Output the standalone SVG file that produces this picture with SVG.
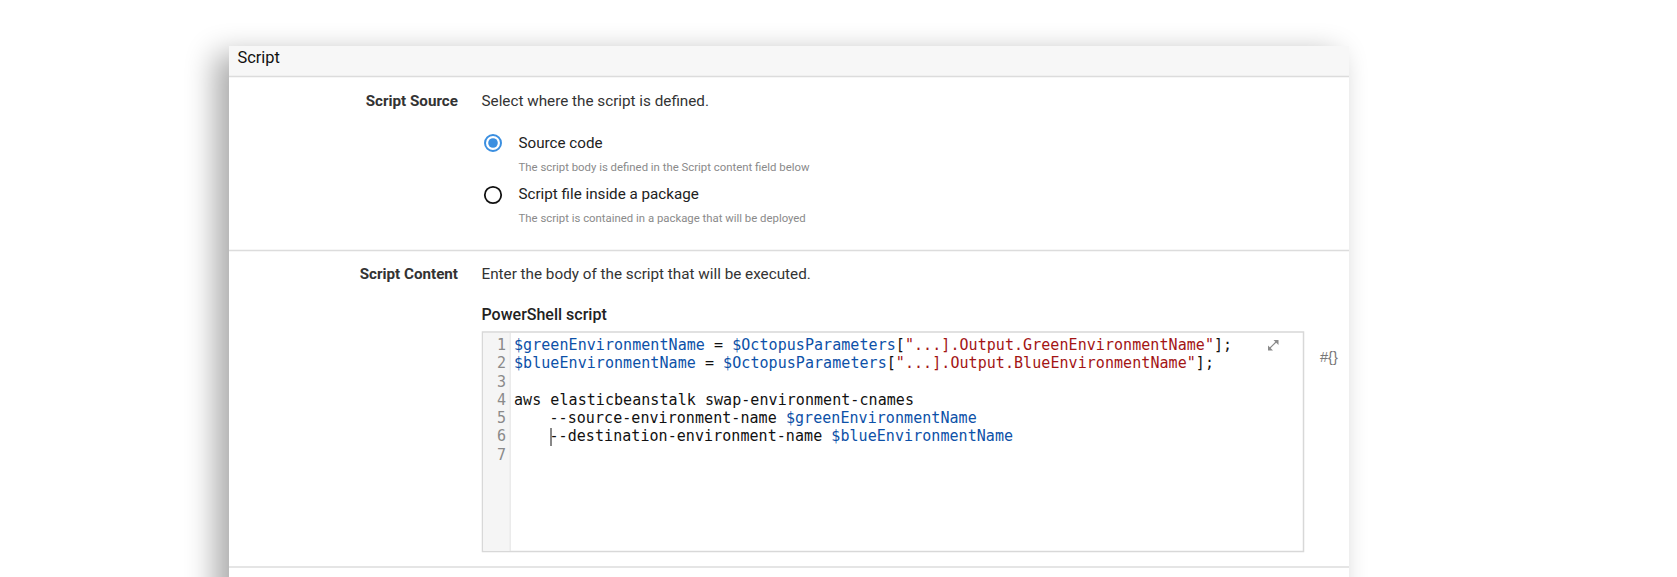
<svg xmlns="http://www.w3.org/2000/svg" width="1677" height="577" viewBox="0 0 1677 577">
<defs>
<filter id="sh" x="-10%" y="-20%" width="120%" height="140%"><feGaussianBlur stdDeviation="15"/></filter>
</defs>
<style>
.u{font-family:"Roboto","Liberation Sans",sans-serif}
.lab{font-size:15.200px;font-weight:700;fill:#333;text-anchor:end}
.txt{font-size:15.250px;fill:#333}
.opt{font-size:15.200px;fill:#222}
.hint{font-size:11.370px;fill:#8a8a8a}
.code{font-family:"DejaVu Sans Mono","Liberation Mono",monospace;font-size:15px;letter-spacing:.06px;fill:#111}
.num{fill:#8a8a8a;text-anchor:end}
.b{fill:#0d51a8}.r{fill:#a31515}
.sep{stroke:#dcdcdc;stroke-width:1.500}
</style>
<rect width="1677" height="577" fill="#fff"/>
<rect x="215" y="54" width="1122" height="600" fill="#000" opacity="0.33" filter="url(#sh)"/>
<rect x="229" y="46" width="1120" height="531" fill="#fff"/>
<g id="header">
<rect x="229" y="46" width="1120" height="30" fill="#f7f7f7"/>
<line class="sep" x1="229" y1="76.500" x2="1349" y2="76.500"/>
<text class="u" x="237.500" y="63" font-size="16.400" fill="#111">Script</text>
</g>
<g id="script-source">
<text class="u lab" x="458" y="105.500">Script Source</text>
<text class="u txt" x="481.500" y="105.500">Select where the script is defined.</text>
<g id="radio-source">
<circle cx="493" cy="143" r="8" fill="#fff" stroke="#3b8fe0" stroke-width="2"/>
<circle cx="493" cy="143" r="4.800" fill="#3b8fe0"/>
<text class="u opt" x="518.500" y="147.500">Source code</text>
<text class="u hint" x="518.500" y="171">The script body is defined in the Script content field below</text>
</g>
<g id="radio-package">
<circle cx="493" cy="195" r="8.200" fill="#fff" stroke="#111" stroke-width="1.800"/>
<text class="u opt" x="518.500" y="199">Script file inside a package</text>
<text class="u hint" x="518.500" y="222">The script is contained in a package that will be deployed</text>
</g>
<line class="sep" x1="229" y1="250.500" x2="1349" y2="250.500"/>
</g>
<g id="script-content">
<text class="u lab" x="458" y="279">Script Content</text>
<text class="u txt" x="481.500" y="279">Enter the body of the script that will be executed.</text>
<text class="u" x="481.500" y="320" font-size="16" font-weight="500" fill="#222">PowerShell script</text>
<g id="editor">
<rect x="482.500" y="332" width="821" height="219.500" fill="#fff" stroke="#d8d8d8" stroke-width="1.500"/>
<rect x="483.500" y="333" width="26.500" height="218" fill="#f5f5f5"/>
<line x1="510.200" y1="333" x2="510.200" y2="551" stroke="#e2e2e2"/>
<g class="code num">
<text x="506" y="350">1</text><text x="506" y="368.300">2</text><text x="506" y="386.500">3</text><text x="506" y="405">4</text><text x="506" y="423">5</text><text x="506" y="441">6</text><text x="506" y="459.700">7</text>
</g>
<text class="code" x="514" y="350" xml:space="preserve"><tspan class="b">$greenEnvironmentName</tspan> = <tspan class="b">$OctopusParameters</tspan>[<tspan class="r">"...].Output.GreenEnvironmentName"</tspan>];</text>
<text class="code" x="514" y="368.300" xml:space="preserve"><tspan class="b">$blueEnvironmentName</tspan> = <tspan class="b">$OctopusParameters</tspan>[<tspan class="r">"...].Output.BlueEnvironmentName"</tspan>];</text>
<text class="code" x="514" y="405">aws elasticbeanstalk swap-environment-cnames</text>
<text class="code" x="549.500" y="423" xml:space="preserve">--source-environment-name <tspan class="b">$greenEnvironmentName</tspan></text>
<text class="code" x="549.500" y="441" xml:space="preserve">--destination-environment-name <tspan class="b">$blueEnvironmentName</tspan></text>
<line x1="551" y1="428" x2="551" y2="446" stroke="#111"/>
<g id="expand" stroke="#8a8a8a" fill="#8a8a8a" stroke-width="1.200">
<line x1="1269" y1="349" x2="1277" y2="341"/>
<path d="M1273.500 340L1278.500 340L1278.500 345Z" stroke="none"/>
<path d="M1268 345.500L1268 350.500L1273 350.500Z" stroke="none"/>
</g>
</g>
<text id="binding" x="1320" y="361.500" font-family="'Liberation Sans',sans-serif" font-size="14.500" fill="#777">#{}</text>
<line class="sep" x1="229" y1="567" x2="1349" y2="567"/>
</g>
</svg>
